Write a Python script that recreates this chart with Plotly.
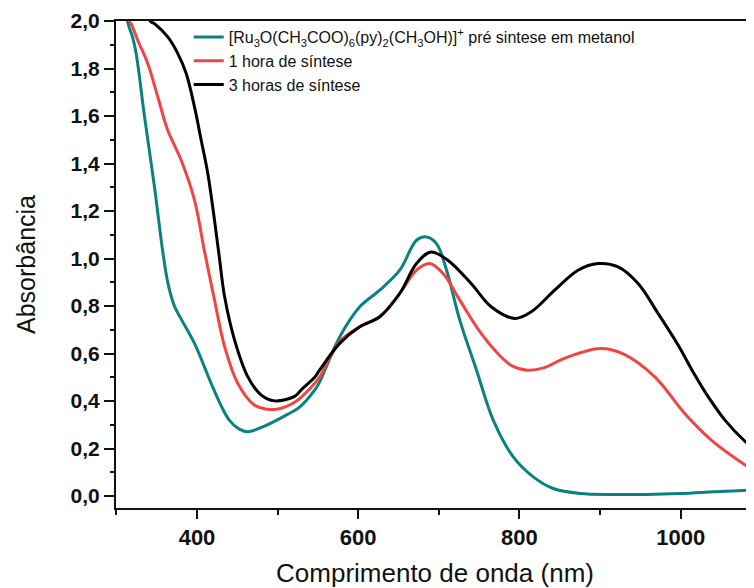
import plotly.graph_objects as go

# ---- data ----
wl_pre = [305, 313.7, 320, 324.5, 334.8, 347.2, 357.5, 363.7, 372, 380.4, 396.9, 417.6, 430, 440, 452, 463.1,
          483.9, 512.8, 527.3, 546, 552, 577, 601.9, 626.7, 651.5, 672.3, 684.7, 697.1, 709.6,
          726, 746.8, 767.5, 792.3, 817.1, 842, 875, 916.5, 958, 999.4, 1040.7, 1082, 1091]
abs_pre = [2.35, 2.0, 1.933, 1.863, 1.600, 1.302, 1.03, 0.90, 0.80, 0.745, 0.643, 0.474, 0.38, 0.32, 0.283, 0.271,
           0.295, 0.345, 0.375, 0.446, 0.48, 0.67, 0.797, 0.867, 0.951, 1.077, 1.091, 1.063, 0.951,
           0.741, 0.53, 0.32, 0.165, 0.081, 0.032, 0.011, 0.007, 0.007, 0.011, 0.018, 0.025, 0.03]

wl_1h = [305, 316, 318.3, 326.5, 338.9, 351.3, 363.7, 380.4, 396.9, 409.3, 421.7, 434.2, 450.7,
         471.4, 496.3, 521.1, 546, 552, 577, 601.9, 626.7, 651.5, 672.3, 688.8, 705.3, 726,
         750.9, 776, 790, 810, 830, 856, 900, 930, 968, 1005, 1038, 1071, 1088, 1091]
abs_1h = [2.25, 2.0, 1.989, 1.919, 1.821, 1.681, 1.54, 1.414, 1.246, 1.03, 0.825, 0.63, 0.474,
          0.383, 0.365, 0.395, 0.475, 0.50, 0.65, 0.713, 0.755, 0.853, 0.951, 0.979, 0.937, 0.825,
          0.692, 0.59, 0.55, 0.53, 0.54, 0.58, 0.621, 0.597, 0.502, 0.348, 0.236, 0.152, 0.115, 0.11]

wl_3h = [330, 342, 347.2, 363.7, 376.2, 386.6, 396.9, 405.2, 413.4, 421.7, 427.9, 434.2, 446.6,
         463.1, 479.7, 496.3, 521.1, 530, 546, 552, 577, 601.9, 626.7, 651.5, 672.3, 690.4, 711.1,
         740.1, 765, 794, 814.6, 843.7, 872.7, 897.5, 922.4, 947.2, 972, 997, 1015, 1030,
         1055, 1080, 1091]
abs_3h = [2.15, 2.0, 1.989, 1.933, 1.863, 1.779, 1.638, 1.498, 1.358, 1.162, 1.0, 0.84, 0.657,
          0.502, 0.425, 0.401, 0.42, 0.45, 0.50, 0.53, 0.643, 0.713, 0.755, 0.853, 0.979, 1.028, 0.993,
          0.895, 0.797, 0.748, 0.776, 0.867, 0.951, 0.979, 0.965, 0.895, 0.769, 0.635, 0.525, 0.44,
          0.32, 0.23, 0.20]

names = ["[Ru<sub>3</sub>O(CH<sub>3</sub>COO)<sub>6</sub>(py)<sub>2</sub>(CH<sub>3</sub>OH)]<sup>+</sup> pré sintese em metanol",
         "1 hora de síntese",
         "3 horas de síntese"]
colors = ["#0B8281", "#F04545", "#000000"]

fig = go.Figure()
for x, y, n, c in [(wl_pre, abs_pre, names[0], colors[0]),
                   (wl_1h, abs_1h, names[1], colors[1]),
                   (wl_3h, abs_3h, names[2], colors[2])]:
    fig.add_trace(go.Scatter(x=x, y=y, name=n, mode="lines",
                             line=dict(color=c, width=3, shape="spline", smoothing=1.0)))

font_family = "Liberation Sans, Arial, sans-serif"
fig.update_layout(
    width=746, height=580,
    margin=dict(l=108, r=0, t=13, b=80, autoexpand=False),
    paper_bgcolor="white", plot_bgcolor="white",
    separators=",.",
    font=dict(family=font_family, color="#111"),
    showlegend=True,
    legend=dict(x=0.114, y=1.002, xanchor="left", yanchor="top",
                bgcolor="rgba(0,0,0,0)", font=dict(size=16, color="#111"),
                tracegroupgap=0),
    xaxis=dict(range=[299.5, 1091], tick0=0, dtick=200, ticks="outside", ticklen=9, tickwidth=2,
               tickcolor="#111", showline=True, linewidth=2, linecolor="#111", mirror=True,
               showgrid=False, zeroline=False, automargin=False,
               tickfont=dict(size=22, family=font_family, color="#111", weight="bold"),
               minor=dict(dtick=100, tick0=0, ticks="outside", ticklen=5, tickwidth=2, tickcolor="#111"),
               title=dict(text="Comprimento de onda (nm)", font=dict(size=26), standoff=20)),
    yaxis=dict(range=[-0.05, 2.0001], tick0=0, dtick=0.2, tickformat=".1f", ticks="outside",
               ticklen=10, tickwidth=2, tickcolor="#111", showline=True, linewidth=2, linecolor="#111",
               showgrid=False, zeroline=False, automargin=False,
               tickfont=dict(size=21, family=font_family, color="#111", weight="bold"),
               minor=dict(dtick=0.1, tick0=0, ticks="outside", ticklen=4, tickwidth=2, tickcolor="#111"),
               title=dict(text="Absorbância", font=dict(size=25), standoff=28)),
)

fig.write_html("out.html")
